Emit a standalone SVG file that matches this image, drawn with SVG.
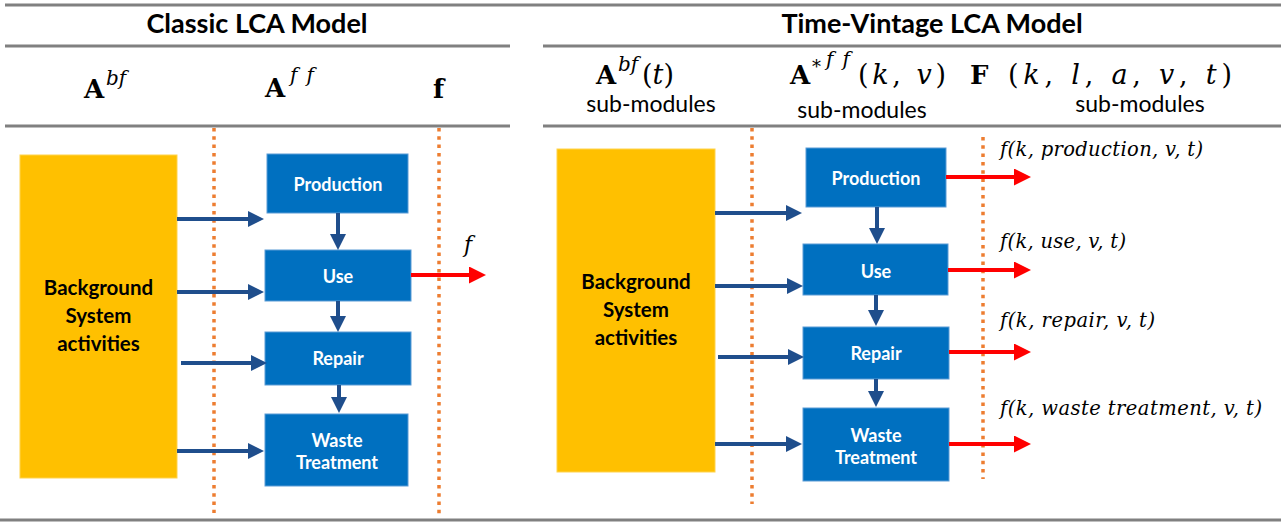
<svg xmlns="http://www.w3.org/2000/svg" width="1281" height="522" viewBox="0 0 1281 522">
<defs>
<style>
.rule{stroke:#808080;stroke-width:3;fill:none}
.dot{stroke:#ED7D31;stroke-width:3.5;stroke-dasharray:3.5 4.8;fill:none}
.title{font-family:Lato,"Liberation Sans",sans-serif;font-weight:bold;font-size:27px;fill:#000;text-anchor:middle}
.sub{font-family:Lato,"Liberation Sans",sans-serif;font-size:23px;fill:#000;text-anchor:middle}
.mb{font-family:"DejaVu Serif",serif;font-weight:bold;font-size:26px;fill:#000}
.mi{font-family:"DejaVu Serif",serif;font-style:italic;font-size:27px;fill:#000}
.mr{font-family:"DejaVu Serif",serif;font-size:27px;fill:#000}
.sup{font-family:"DejaVu Serif",serif;font-style:italic;font-size:20px;fill:#000;font-variant-ligatures:none}
.lab{font-family:"DejaVu Serif",serif;font-style:italic;font-size:19.5px;fill:#000;font-variant-ligatures:none}
.bg{fill:#FFC000;stroke:#FFD34D;stroke-width:1}
.box{fill:#0070C0;stroke:#5B9BD5;stroke-width:1}
.bt{font-family:Lato,"Liberation Sans",sans-serif;font-weight:bold;font-size:18px;fill:#fff;text-anchor:middle}
.yt{font-family:Lato,"Liberation Sans",sans-serif;font-weight:bold;font-size:20.5px;fill:#000;text-anchor:middle}
.ab{stroke:#1F4E8C;stroke-width:4;fill:none;marker-end:url(#hb)}
.ar{stroke:#FF0000;stroke-width:4;fill:none;marker-end:url(#hr)}
</style>
<marker id="hb" markerUnits="userSpaceOnUse" markerWidth="16" markerHeight="16" viewBox="0 0 16 16" refX="0" refY="8" orient="auto"><path d="M0,0 L16,8 L0,16 z" fill="#1F4E8C"/></marker>
<marker id="hr" markerUnits="userSpaceOnUse" markerWidth="17" markerHeight="17" viewBox="0 0 17 17" refX="0" refY="8.5" orient="auto"><path d="M0,0 L17,8.5 L0,17 z" fill="#FF0000"/></marker>
</defs>
<rect width="1281" height="522" fill="#fff"/>

<g id="frame">
<line class="rule" x1="5" y1="5" x2="1281" y2="5"/>
<line class="rule" x1="5" y1="46" x2="510" y2="46"/>
<line class="rule" x1="5" y1="126" x2="510" y2="126"/>
<line class="rule" x1="543" y1="46" x2="1281" y2="46"/>
<line class="rule" x1="543" y1="126" x2="1281" y2="126"/>
<line class="rule" x1="0" y1="520" x2="1281" y2="520"/>
<line class="dot" x1="214" y1="128" x2="214" y2="513"/>
<line class="dot" x1="439" y1="128" x2="439" y2="517"/>
<line class="dot" x1="752" y1="128" x2="752" y2="504"/>
<line class="dot" x1="983" y1="137" x2="983" y2="479"/>
</g>

<g id="headers">
<text class="title" x="257" y="33">Classic LCA Model</text>
<text class="title" x="932" y="33">Time-Vintage LCA Model</text>
<text class="mb" x="84" y="98">A</text><text class="sup" x="106" y="85">bf</text>
<text class="mb" x="265" y="97">A</text><text class="sup" x="290" y="82" textLength="24">ff</text>
<text class="mb" x="433" y="98">f</text>
<text class="mb" x="596" y="84">A</text><text class="sup" x="618" y="71">bf</text>
<text class="mr" x="642" y="84">(<tspan class="mi">t</tspan>)</text>
<text class="sub" x="651" y="112">sub-modules</text>
<text class="mb" x="790" y="84">A</text><text class="mr" x="812" y="73" style="font-size:18px">*</text><text class="sup" x="826" y="66" textLength="24">ff</text>
<text class="mr" x="858" y="84" textLength="88">(<tspan class="mi">k</tspan>, <tspan class="mi">v</tspan>)</text>
<text class="sub" x="862" y="118">sub-modules</text>
<text class="mb" x="970" y="84">F</text>
<text class="mr" x="1008" y="84" textLength="224">(<tspan class="mi">k</tspan>, <tspan class="mi">l</tspan>, <tspan class="mi">a</tspan>, <tspan class="mi">v</tspan>, <tspan class="mi">t</tspan>)</text>
<text class="sub" x="1140" y="112">sub-modules</text>
</g>

<g id="bg-classic"><rect class="bg" x="20" y="155" width="157" height="323"/><text class="yt" x="98.5" y="295">Background</text><text class="yt" x="98.5" y="323">System</text><text class="yt" x="98.5" y="351">activities</text></g>
<g id="prod-classic"><rect class="box" x="267" y="154" width="141" height="59"/><text class="bt" x="338" y="191">Production</text></g>
<g id="use-classic"><rect class="box" x="265" y="250" width="146" height="51"/><text class="bt" x="338" y="283">Use</text></g>
<g id="repair-classic"><rect class="box" x="265" y="332" width="146" height="53"/><text class="bt" x="338" y="365">Repair</text></g>
<g id="waste-classic"><rect class="box" x="265" y="414" width="143" height="72"/><text class="bt" x="337" y="447">Waste</text><text class="bt" x="337" y="469">Treatment</text></g>

<g id="bg-tv"><rect class="bg" x="557" y="149" width="158" height="323"/><text class="yt" x="636" y="289">Background</text><text class="yt" x="636" y="317">System</text><text class="yt" x="636" y="345">activities</text></g>
<g id="prod-tv"><rect class="box" x="806" y="148" width="140" height="59"/><text class="bt" x="876" y="185">Production</text></g>
<g id="use-tv"><rect class="box" x="803" y="244" width="145" height="51"/><text class="bt" x="876" y="278">Use</text></g>
<g id="repair-tv"><rect class="box" x="803" y="327" width="146" height="52"/><text class="bt" x="876" y="360">Repair</text></g>
<g id="waste-tv"><rect class="box" x="803" y="408" width="146" height="73"/><text class="bt" x="876" y="442">Waste</text><text class="bt" x="876" y="464">Treatment</text></g>

<g id="connectors">
<line class="ab" x1="177" y1="219" x2="248" y2="219"/>
<line class="ab" x1="177" y1="292" x2="248" y2="292"/>
<line class="ab" x1="181" y1="363" x2="251" y2="363"/>
<line class="ab" x1="177" y1="451" x2="248" y2="451"/>
<line class="ab" x1="338" y1="213" x2="338" y2="234"/>
<line class="ab" x1="338" y1="301" x2="338" y2="316"/>
<line class="ab" x1="339" y1="385" x2="339" y2="397"/>
<line class="ar" x1="411" y1="275" x2="469" y2="275"/>
<line class="ab" x1="715" y1="213" x2="786" y2="213"/>
<line class="ab" x1="715" y1="286" x2="787" y2="286"/>
<line class="ab" x1="718" y1="357" x2="788" y2="357"/>
<line class="ab" x1="715" y1="444" x2="786" y2="444"/>
<line class="ab" x1="877" y1="207" x2="877" y2="228"/>
<line class="ab" x1="876" y1="295" x2="876" y2="310"/>
<line class="ab" x1="876" y1="379" x2="876" y2="391"/>
<line class="ar" x1="946" y1="177" x2="1014" y2="177"/>
<line class="ar" x1="948" y1="270" x2="1014" y2="270"/>
<line class="ar" x1="949" y1="352" x2="1014" y2="352"/>
<line class="ar" x1="949" y1="444" x2="1014" y2="444"/>
</g>

<g id="flow-labels">
<text class="lab" x="464" y="252" style="font-size:22px">f</text>
<text class="lab" x="1000" y="156" textLength="203">f(k, production, v, t)</text>
<text class="lab" x="1000" y="248" textLength="126">f(k, use, v, t)</text>
<text class="lab" x="1000" y="327" textLength="155">f(k, repair, v, t)</text>
<text class="lab" x="1000" y="415" textLength="262">f(k, waste treatment, v, t)</text>
</g>
</svg>
